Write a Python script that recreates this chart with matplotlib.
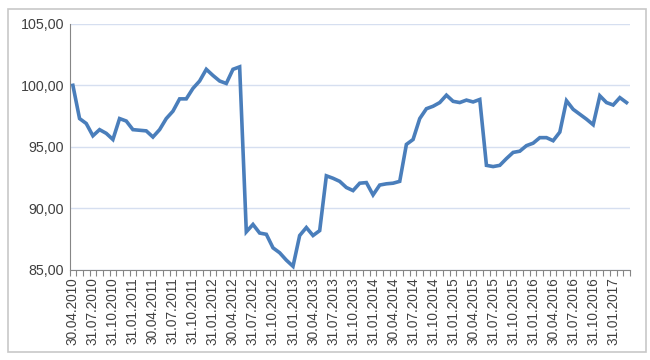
import pandas as pd
import matplotlib.pyplot as plt
from matplotlib.patches import Rectangle

# monthly index values, 30.04.2010 .. 31.03.2017
values = [
    100.0, 97.3, 96.9, 95.9, 96.4, 96.1, 95.6, 97.3, 97.1, 96.4,
    96.35, 96.3, 95.8, 96.4, 97.3, 97.9, 98.9, 98.9, 99.75, 100.35,
    101.3, 100.8, 100.35, 100.15, 101.3, 101.5, 88.1, 88.7, 88.0, 87.9,
    86.8, 86.4, 85.8, 85.3, 87.8, 88.45, 87.8, 88.2, 92.65, 92.45,
    92.2, 91.7, 91.45, 92.05, 92.1, 91.1, 91.9, 92.0, 92.05, 92.2,
    95.2, 95.6, 97.3, 98.1, 98.3, 98.6, 99.2, 98.7, 98.6, 98.8,
    98.65, 98.85, 93.5, 93.4, 93.5, 94.05, 94.55, 94.65, 95.1, 95.3,
    95.75, 95.75, 95.5, 96.2, 98.75, 98.05, 97.65, 97.25, 96.8, 99.15,
    98.6, 98.4, 99.0, 98.6,
]
dates = pd.date_range("2010-04-30", periods=len(values), freq="ME")
date_labels = [d.strftime("%d.%m.%Y") for d in dates]
y_ticks = [85, 90, 95, 100, 105]

plt.rcParams['font.family'] = ['Liberation Sans', 'DejaVu Sans']

fig = plt.figure(figsize=(6.5, 3.6), dpi=100)
fig.patches.append(Rectangle((8 / 650, 8 / 360), 638 / 650, 343 / 360,
                             transform=fig.transFigure, fill=False,
                             edgecolor='#c8c8c8', linewidth=1.2))
ax = fig.add_axes([0.107, 0.25, 0.862, 0.684])

x = list(range(len(values)))
ax.plot(x, values, color='#4a7ebb', linewidth=2.6, solid_joinstyle='miter')

ax.set_xlim(-0.5, len(values) - 0.5)
ax.set_ylim(85, 105)
ax.set_yticks(y_ticks)
ax.set_yticklabels([f"{v:.2f}".replace('.', ',') for v in y_ticks],
                   fontsize=10.3, color='#404040')
ax.yaxis.grid(True, color='#d6dff0', linewidth=1)
ax.set_axisbelow(True)

ax.set_xticks(x[::3])
ax.set_xticklabels(date_labels[::3], rotation=90, fontsize=9.8, color='#404040')
ax.set_xticks([i - 0.5 for i in range(len(values) + 1)], minor=True)
ax.tick_params(axis='x', which='major', length=0, pad=5)
ax.tick_params(axis='x', which='minor', length=4, color='#868686', width=0.8)
ax.tick_params(axis='y', length=0, pad=4)

for side in ['top', 'right']:
    ax.spines[side].set_visible(False)
ax.spines['left'].set_color('#868686')
ax.spines['bottom'].set_color('#868686')

fig.savefig('out.png', dpi=100)
